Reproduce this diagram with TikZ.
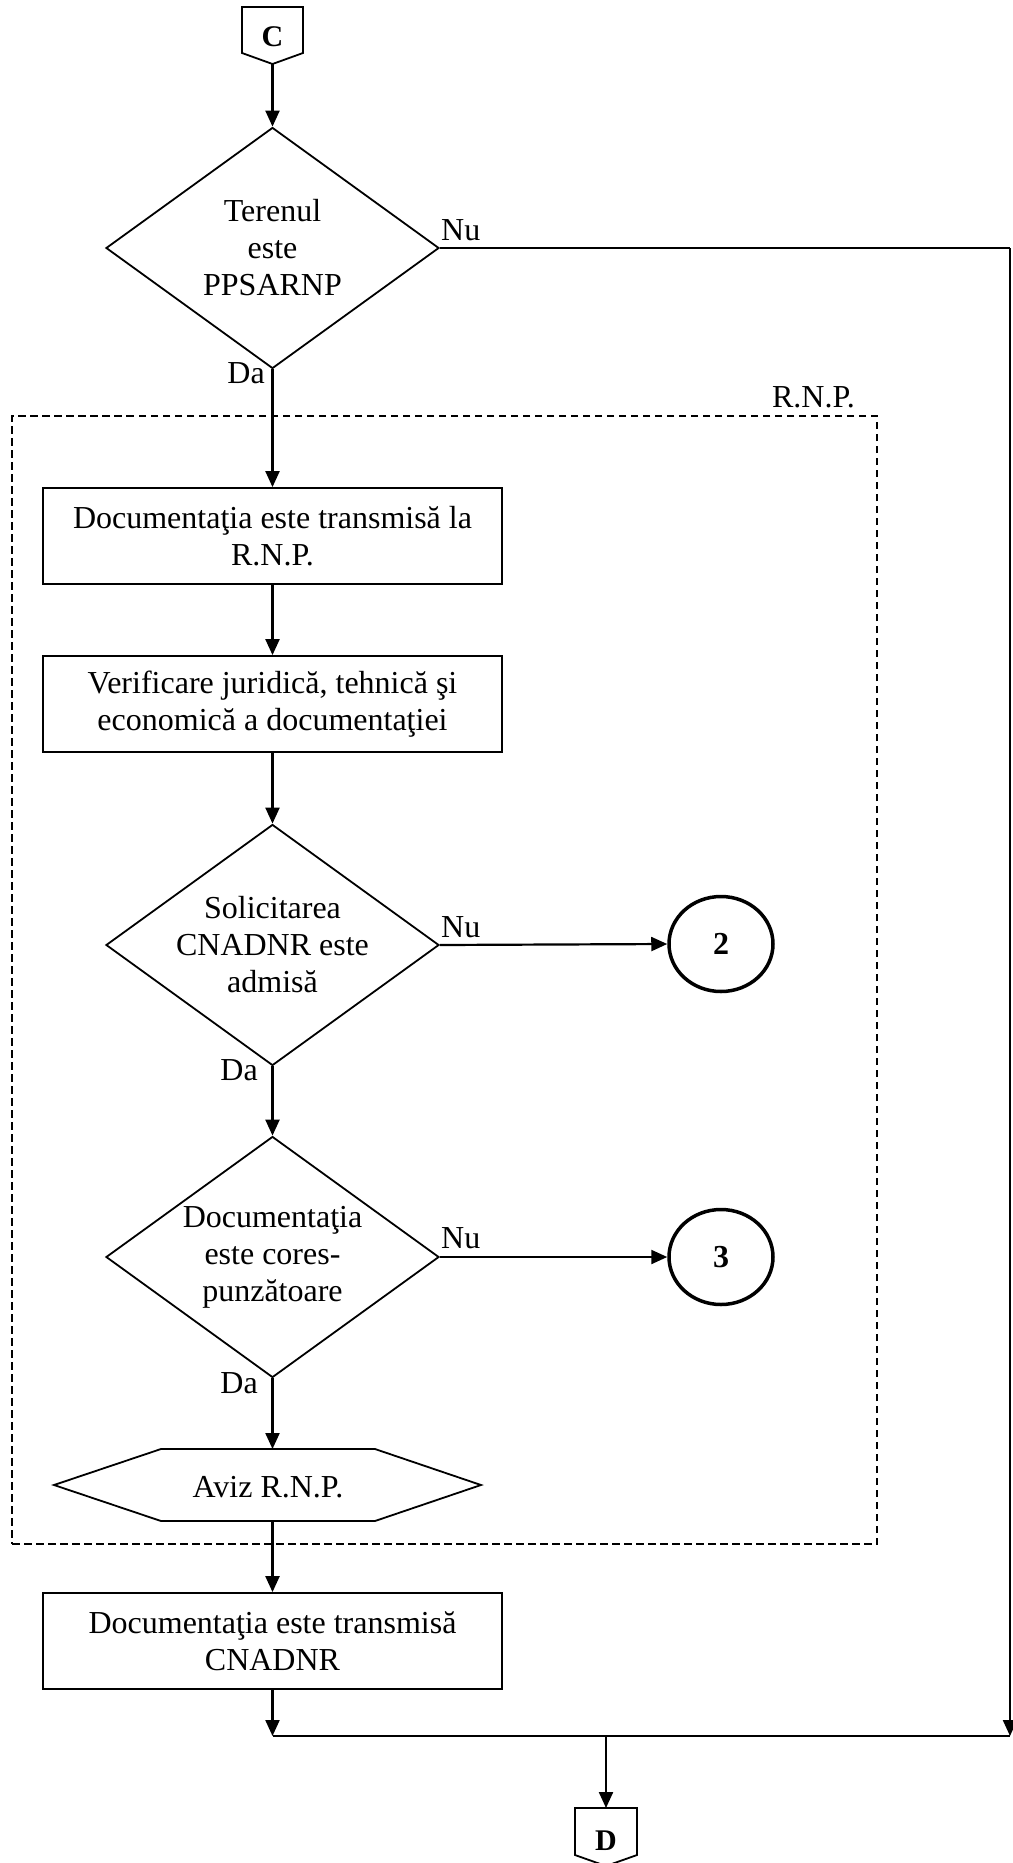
\documentclass[tikz,border=0pt]{standalone}
\usepackage{fontspec}
\setmainfont{Liberation Serif}
\usetikzlibrary{shapes.geometric,arrows.meta}
\begin{document}
\begin{tikzpicture}[x=1pt,y=-1pt,
  every node/.style={font=\fontsize{32}{37}\selectfont},
  shp/.style={draw,line width=1.8pt},
  proc/.style={shp,minimum width=459pt,minimum height=96pt,inner sep=0pt,align=center},
  decis/.style={shp,diamond,minimum width=333pt,minimum height=241pt,inner sep=0pt,aspect=1.38,align=center},
  conn/.style={draw,ellipse,line width=3.5pt,minimum width=104pt,minimum height=95pt,inner sep=0pt,font=\fontsize{32}{37}\selectfont\bfseries},
  ln/.style={line width=2.2pt},
  arr/.style={ln,-{Triangle[length=16pt,width=14pt]}},
  lbl/.style={inner sep=0pt},
  rnpbox/.style={draw,line width=2.7pt,dash pattern=on 7.5pt off 4.5pt,minimum width=865pt,minimum height=1128pt,inner sep=0pt}
]
\useasboundingbox (0,0) rectangle (1012,1863);

% R.N.P. group
\node[rnpbox] (rnp) at (444.5,980) {};
\node[lbl,anchor=base east] (rnplbl) at (855,407) {R.N.P.};

% connector C
\draw[shp] (242,7) -- (303,7) -- (303,53) -- (272.5,64) -- (242,53) -- cycle;
\node[lbl] (C) at (272.5,37) {\fontsize{30}{36}\selectfont\bfseries C};
\coordinate (Cb) at (272.5,64);

% decisions and steps
\node[decis] (d1) at (272.5,248) {Terenul\\este\\PPSARNP};
\node[proc] (b1) at (272.5,536) {Documentaţia este transmisă la\\R.N.P.};
\node[proc] (b2) at (272.5,704) {Verificare juridică, tehnică şi\\economică a documentaţiei};
\node[decis] (d2) at (272.5,945) {Solicitarea\\CNADNR este\\admisă};
\node[decis] (d3) at (272.5,1257) {Documentaţia\\este cores-\\punzătoare};
\node[conn] (c2) at (721,944) {2};
\node[conn] (c3) at (721,1257) {3};

% hexagon
\draw[shp] (54,1485) -- (161,1449) -- (375,1449) -- (481,1485) -- (375,1521) -- (161,1521) -- cycle;
\node[lbl] (hex) at (268,1487) {Aviz R.N.P.};
\coordinate (hexT) at (272.5,1449);
\coordinate (hexB) at (272.5,1521);

\node[proc] (b3) at (272.5,1641) {Documentaţia este transmisă\\CNADNR};

% connector D
\draw[shp] (575,1808) -- (637,1808) -- (637,1855) -- (606,1866) -- (575,1855) -- cycle;
\node[lbl] (D) at (606,1841) {\fontsize{30}{36}\selectfont\bfseries D};
\coordinate (Dt) at (606,1808);

% routing coordinates
\coordinate (R1) at (1010,248);
\coordinate (R2) at (1010,1736);
\coordinate (M) at (272.5,1736);
\coordinate (Mj) at (606,1736);

% connectors
\draw[arr] (Cb) -- (d1.north);
\draw[arr] (d1.south) -- (b1.north);
\draw[arr] (b1.south) -- (b2.north);
\draw[arr] (b2.south) -- (d2.north);
\draw[arr] (d2.south) -- (d3.north);
\draw[arr] (d2.east) -- (c2.west);
\draw[arr] (d3.east) -- (c3.west);
\draw[arr] (d3.south) -- (hexT);
\draw[arr] (hexB) -- (b3.north);
\draw[arr] (b3.south) -- (M);
\draw[ln] (d1.east) -- (R1);
\draw[arr] (R1) -- (R2);
\draw[ln] (M) -- (R2);
\draw[arr] (Mj) -- (Dt);

% labels
\node[lbl,anchor=base west] (nu1) at (441,240) {Nu};
\node[lbl,anchor=base east] (da1) at (265,383) {Da};
\node[lbl,anchor=base west] (nu2) at (441,937) {Nu};
\node[lbl,anchor=base east] (da2) at (258,1080) {Da};
\node[lbl,anchor=base west] (nu3) at (441,1248) {Nu};
\node[lbl,anchor=base east] (da3) at (258,1393) {Da};
\end{tikzpicture}
\end{document}
